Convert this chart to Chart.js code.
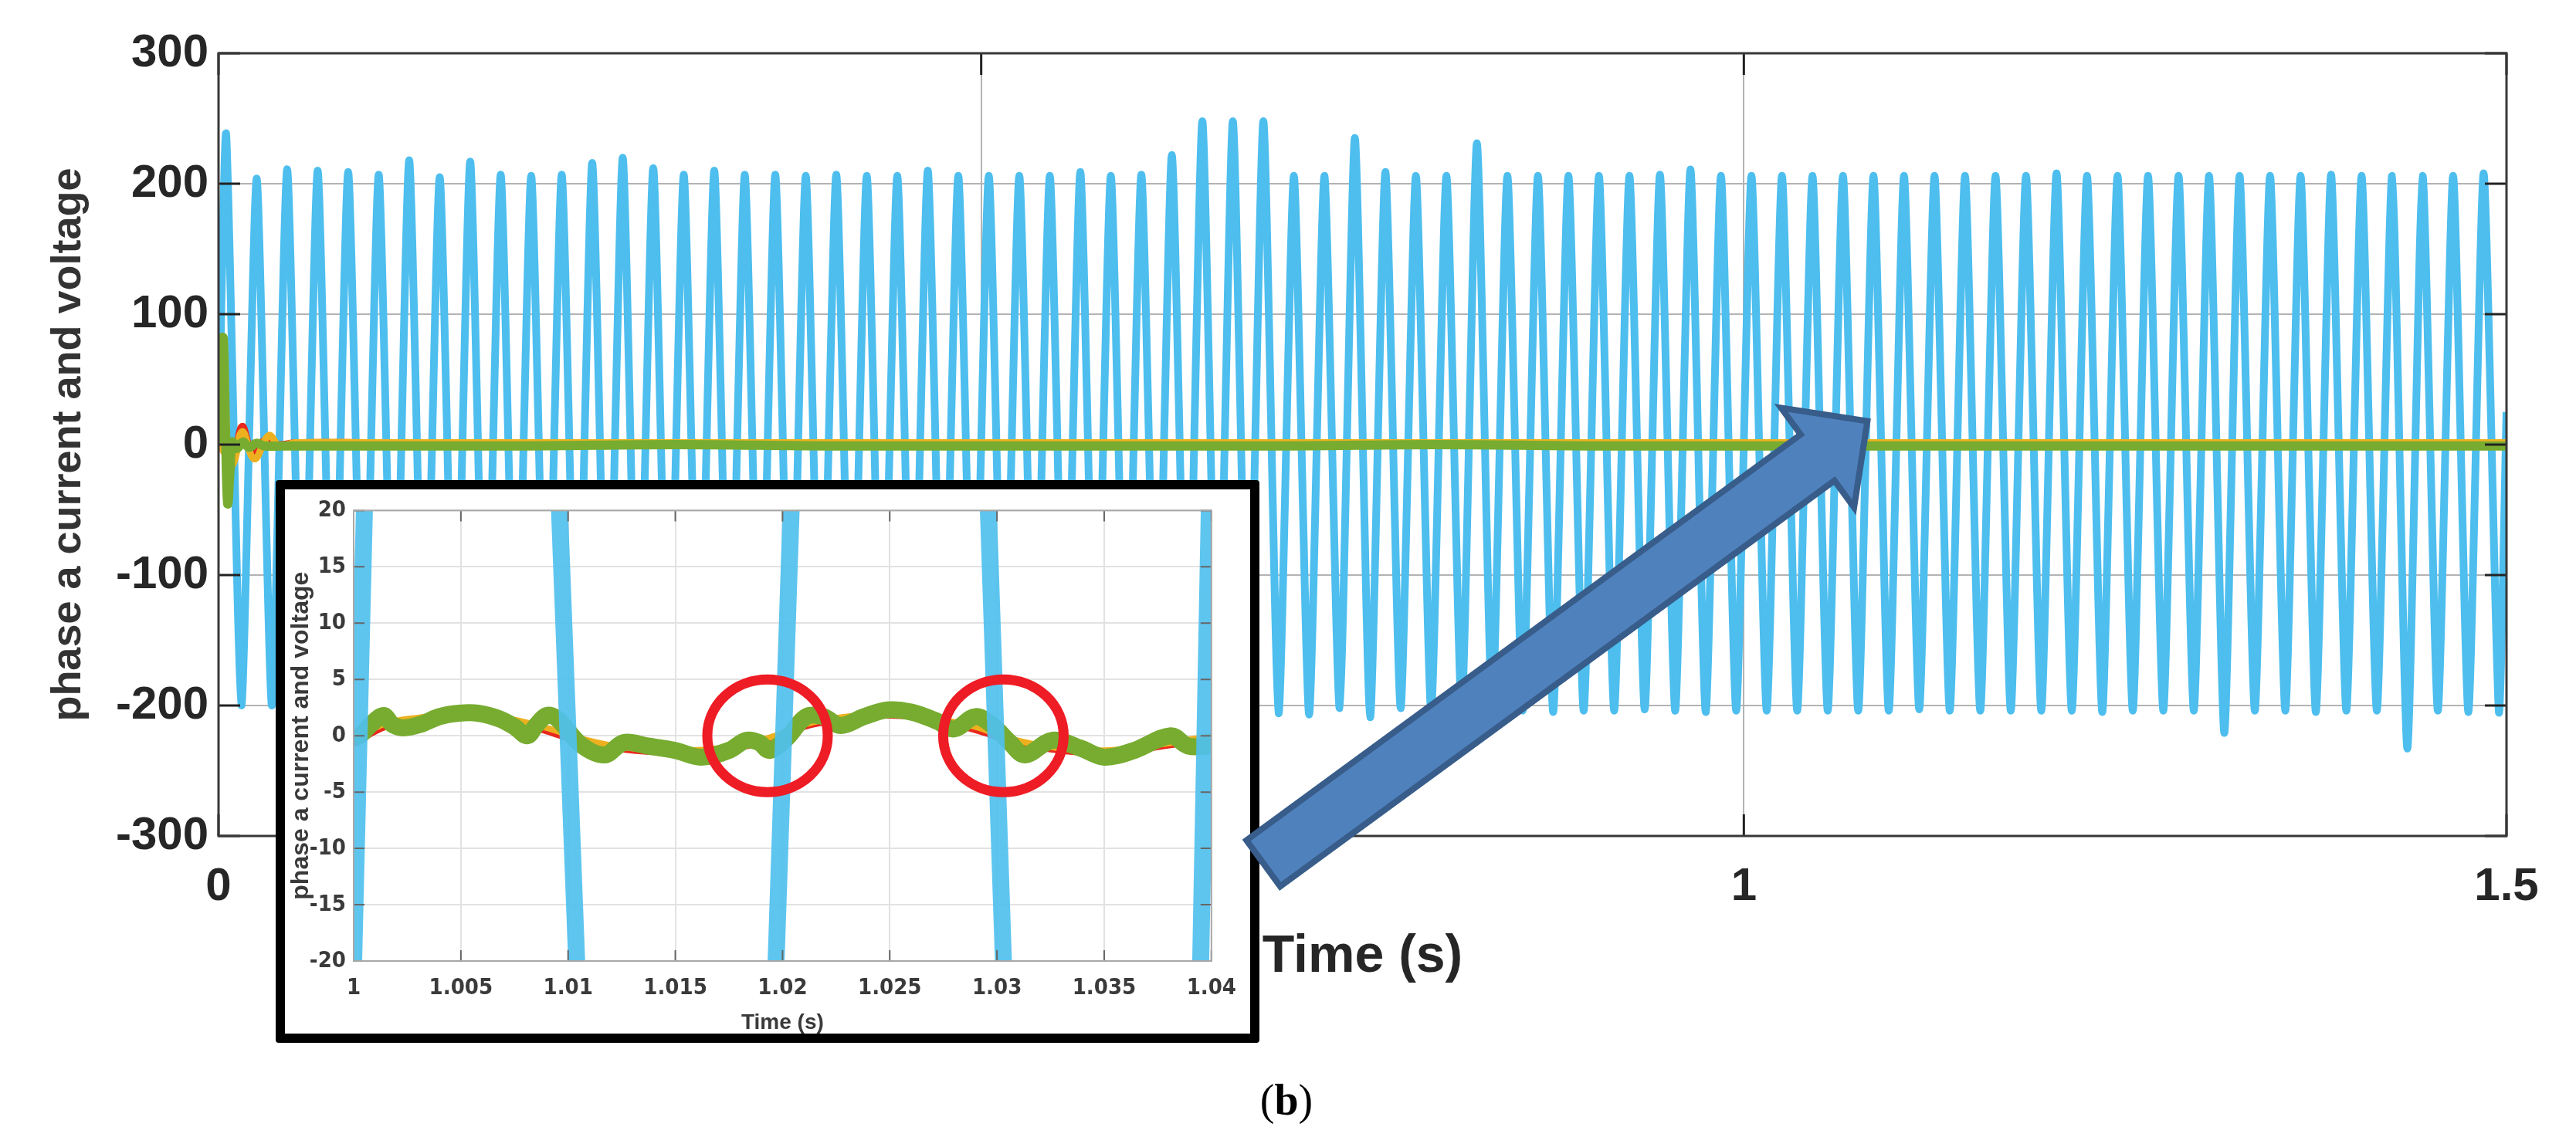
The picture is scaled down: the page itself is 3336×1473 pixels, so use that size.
<!DOCTYPE html>
<html>
<head>
<meta charset="utf-8">
<script src="https://cdn.jsdelivr.net/npm/chart.js@4.4.1/dist/chart.umd.min.js"></script>
<style>
html, body { margin: 0; padding: 0; background: #fff; }
#wrap { position: relative; width: 3336px; height: 1473px; overflow: hidden; }
#main { position: absolute; left: 0; top: 0; }
#insetBox { position: absolute; left: 357px; top: 622px; width: 1250px; height: 705px;
  border: 12px solid #000; background: #fff; border-radius: 4px; overflow: hidden; }
#inset { position: absolute; left: 0; top: 0; }
#arrow { position: absolute; left: 0; top: 0; pointer-events: none; }
#tag { position: absolute; left: 1666px; top: 1425px; transform: translate(-50%, -50%);
  font-family: 'Liberation Serif', 'DejaVu Serif', serif; font-size: 56px; color: #000; }
</style>
</head>
<body>
<div id="wrap">
  <canvas id="main" width="3336" height="1473"></canvas>
  <div id="insetBox"><canvas id="inset" width="1250" height="705"></canvas></div>
  <canvas id="arrow" width="3336" height="1473"></canvas>
  <div id="tag">(<b>b</b>)</div>
</div>
<script>
// ---- main plot: phase a current (blue), read peak by peak, 50 Hz ----
const peakTimes = [0.005,0.025,0.045,0.065,0.085,0.105,0.125,0.145,0.165,0.185,
  0.205,0.225,0.245,0.265,0.285,0.305,0.325,0.345,0.365,0.385,
  0.405,0.425,0.445,0.465,0.485,0.505,0.525,0.545,0.565,0.585,
  0.605,0.625,0.645,0.665,0.685,0.705,0.725,0.745,0.765,0.785,
  0.805,0.825,0.845,0.865,0.885,0.905,0.925,0.945,0.965,0.985,
  1.005,1.025,1.045,1.065,1.085,1.105,1.125,1.145,1.165,1.185,
  1.205,1.225,1.245,1.265,1.285,1.305,1.325,1.345,1.365,1.385,
  1.405,1.425,1.445,1.465,1.485];
const peakValues = [238,204,211,210,209,207,218,205,217,207,
  206,207,216,220,212,207,210,207,207,206,
  207,206,206,210,206,206,206,206,209,206,
  207,222,248,248,248,206,206,235,209,206,
  206,231,206,206,206,206,206,207,211,206,
  206,206,206,206,206,206,206,206,206,206,
  208,206,206,206,206,206,206,206,206,207,
  206,206,206,206,208];
const troughTimes = [0.015,0.035,0.055,0.075,0.095,0.115,0.135,0.155,0.175,0.195,
  0.215,0.235,0.255,0.275,0.295,0.315,0.335,0.355,0.375,0.395,
  0.415,0.435,0.455,0.475,0.495,0.515,0.535,0.555,0.575,0.595,
  0.615,0.635,0.655,0.675,0.695,0.715,0.735,0.755,0.775,0.795,
  0.815,0.835,0.855,0.875,0.895,0.915,0.935,0.955,0.975,0.995,
  1.015,1.035,1.055,1.075,1.095,1.115,1.135,1.155,1.175,1.195,
  1.215,1.235,1.255,1.275,1.295,1.315,1.335,1.355,1.375,1.395,
  1.415,1.435,1.455,1.475,1.495];
const troughValues = [-200,-200,-205,-205,-205,-205,-205,-205,-205,-205,
  -205,-205,-205,-205,-205,-205,-205,-205,-205,-205,
  -205,-205,-205,-205,-205,-205,-205,-205,-205,-205,
  -205,-205,-205,-205,-206,-207,-202,-209,-202,-204,
  -203,-204,-204,-205,-204,-204,-203,-204,-205,-204,
  -204,-204,-204,-204,-204,-203,-204,-204,-204,-204,
  -204,-205,-204,-204,-204,-221,-204,-204,-205,-204,
  -204,-233,-204,-205,-205];
const blueStart = 0, blueEnd = 25;

// voltages / references near zero, with the start-up transient
const greenT = [0,0.0015,0.003,0.0045,0.006,0.0075,0.009,0.012,0.016,0.02,0.025,0.03,0.04,
  0.1,0.2,0.3,0.4,0.5,0.6,0.7,0.8,0.9,1.0,1.1,1.2,1.3,1.4,1.5];
const greenV = [0,40,82,15,-45,-20,2,-3,2,-2,1,-1,-1,
  -1,-1,0,-1,-1,-1,-1,0,-1,-1,-1,-1,-1,-1,-1];
const orangeT = [0,0.005,0.0095,0.0155,0.0235,0.033,0.04,0.05,
  0.1,0.2,0.3,0.4,0.5,0.6,0.7,0.8,0.9,1.0,1.1,1.2,1.3,1.4,1.5];
const orangeV = [0,-8,-15,10,-11,7,-1,1.5,
  1.5,1.5,1.5,1.5,1.5,1.5,1.5,1.5,1.5,1.5,1.5,1.5,1.5,1.5,1.5];
const redT = [0,0.005,0.0095,0.0155,0.022,0.03,0.04,0.05,
  0.1,0.2,0.3,0.4,0.5,0.6,0.7,0.8,0.9,1.0,1.1,1.2,1.3,1.4,1.5];
const redV = [0,-6,-12,14,-5,3,0,1.5,
  1.5,1.5,1.5,1.5,1.5,1.5,1.5,1.5,1.5,1.5,1.5,1.5,1.5,1.5,1.5];

const mainXTicks = [0, 0.5, 1, 1.5];
const mainXLabels = ['0', '0.5', '1', '1.5'];
const mainYTicks = [-300, -200, -100, 0, 100, 200, 300];
const mainYLabels = ['-300', '-200', '-100', '0', '100', '200', '300'];

// ---- zoomed inset 1.00 .. 1.04 s ----
// blue: peaks plus the points where each stripe meets the +/-20 edges
const insetBlueT = [0.995,1.0000,1.0005,1.005,1.0096,1.0104,1.015,1.0197,1.0204,1.025,
  1.0296,1.0303,1.035,1.0395,1.0399,1.045];
const insetBlueV = [-205,-20,20,206,20,-20,-204,-20,20,206,
  20,-20,-204,-20,20,206];
const insetGreenT = [1.0,1.00035,1.0008,1.0014,1.0018,1.0023,1.0031,1.0040,1.0049,1.0058,
  1.0068,1.0075,1.0081,1.0085,1.0090,1.0095,1.0106,1.0117,1.0126,1.0137,
  1.0150,1.0162,1.0175,1.0183,1.0189,1.0194,1.0202,1.0211,1.0219,1.0227,
  1.0238,1.0249,1.0260,1.0272,1.0280,1.0290,1.0298,1.0306,1.0313,1.0326,
  1.0339,1.0350,1.0364,1.0381,1.0389,1.0398,1.04];
const insetGreenV = [-0.3,0.1,1.0,1.8,1.0,0.7,1.0,1.7,2.0,2.0,
  1.5,0.8,0.0,0.9,1.8,1.5,-0.8,-1.7,-0.6,-0.9,
  -1.3,-1.9,-1.3,-0.4,-0.6,-1.3,-0.2,1.7,1.7,0.9,
  1.7,2.3,2.1,1.3,0.6,1.7,0.9,-0.6,-1.7,-0.4,
  -1.1,-1.9,-1.3,0.0,-0.9,-0.9,-0.6];
const insetRedT = [1.0,1.0015,1.003,1.005,1.007,1.009,1.0105,1.0125,1.015,1.0175,
  1.0195,1.021,1.023,1.025,1.027,1.029,1.0305,1.0325,1.035,1.0375,1.04];
const insetRedV = [-0.7,0.8,1.4,1.8,1.5,0.4,-0.5,-1.2,-1.5,-1.2,
  -0.3,0.8,1.5,1.8,1.4,0.5,-0.4,-1.2,-1.5,-1.0,-0.2];
const insetOrangeT = [1.0,1.0015,1.003,1.005,1.007,1.009,1.0105,1.0125,1.015,1.0175,
  1.0195,1.021,1.023,1.025,1.027,1.029,1.0305,1.0325,1.035,1.0375,1.04];
const insetOrangeV = [-0.3,1.1,1.6,1.9,1.6,0.7,-0.2,-1.0,-1.3,-1.0,
  -0.1,1.0,1.7,1.9,1.5,0.8,-0.2,-1.0,-1.3,-0.8,0.0];
const insetXTicks = [1, 1.005, 1.01, 1.015, 1.02, 1.025, 1.03, 1.035, 1.04];
const insetXLabels = ['1', '1.005', '1.01', '1.015', '1.02', '1.025', '1.03', '1.035', '1.04'];
const insetYTicks = [-20, -15, -10, -5, 0, 5, 10, 15, 20];
const insetYLabels = ['-20', '-15', '-10', '-5', '0', '5', '10', '15', '20'];
const circleTimes = [1.0193, 1.0303];

// arrow from the inset to the zoomed region (data units of the main plot)
const arrowFrom = [0.685, -321];
const arrowTo = [1.081, 18];

const sans = "'Liberation Sans', Arial, Helvetica, sans-serif";
const narrow = "'Liberation Sans Narrow', 'DejaVu Sans Condensed', 'Liberation Sans', sans-serif";

function pts(ts, vs) {
  return ts.map((t, i) => ({x: t, y: vs[i]}));
}

var bluePts = [{x: 0, y: blueStart}];
for (var i = 0; i < peakTimes.length; i++) {
  bluePts.push({x: peakTimes[i], y: peakValues[i]});
  bluePts.push({x: troughTimes[i], y: troughValues[i]});
}
bluePts.push({x: 1.5, y: blueEnd});

// box + inward tick marks, matlab style
function boxPlugin(id, xt, yt, color, width, tick, tickColor) {
  return {
    id: id,
    afterDatasetsDraw(chart) {
      const {ctx, chartArea: a, scales} = chart;
      ctx.save();
      ctx.strokeStyle = tickColor;
      ctx.lineWidth = width;
      ctx.beginPath();
      yt.forEach(v => {
        const py = scales.y.getPixelForValue(v);
        ctx.moveTo(a.left, py); ctx.lineTo(a.left + tick, py);
        ctx.moveTo(a.right, py); ctx.lineTo(a.right - tick, py);
      });
      xt.forEach(v => {
        const px = scales.x.getPixelForValue(v);
        ctx.moveTo(px, a.bottom); ctx.lineTo(px, a.bottom - tick);
        ctx.moveTo(px, a.top); ctx.lineTo(px, a.top + tick);
      });
      ctx.stroke();
      ctx.strokeStyle = color;
      ctx.strokeRect(a.left, a.top, a.right - a.left, a.bottom - a.top);
      ctx.restore();
    }
  };
}

const mainChart = new Chart(document.getElementById('main'), {
  type: 'line',
  data: {
    datasets: [
      {data: pts(greenT, greenV), borderColor: '#77AC30', borderWidth: 12, tension: 0.4},
      {data: pts(orangeT, orangeV), borderColor: '#EDB120', borderWidth: 9, tension: 0.4},
      {data: pts(redT, redV), borderColor: '#E8281E', borderWidth: 9, tension: 0.4},
      {data: bluePts, borderColor: '#4DBEEE', borderWidth: 10, tension: 0.2}
    ]
  },
  options: {
    responsive: false,
    animation: false,
    events: [],
    elements: {point: {radius: 0}},
    layout: {padding: {left: 57, top: 69, right: 90, bottom: 192}},
    plugins: {legend: {display: false}, tooltip: {enabled: false}},
    scales: {
      x: {
        type: 'linear', min: 0, max: 1.5,
        afterBuildTicks: s => { s.ticks = mainXTicks.map(v => ({value: v})); },
        afterFit: s => { s.height = 198; },
        grid: {color: '#B3B3B3', lineWidth: 2, drawTicks: false},
        border: {display: false},
        ticks: {padding: 30, color: '#262626', maxRotation: 0, autoSkip: false,
          font: {family: sans, size: 60, weight: 'bold'},
          callback: (v, i) => mainXLabels[i]},
        title: {display: true, text: 'Time (s)', color: '#262626', padding: 0,
          font: {family: sans, size: 68, weight: 'bold'}}
      },
      y: {
        type: 'linear', min: -300, max: 300,
        afterBuildTicks: s => { s.ticks = mainYTicks.map(v => ({value: v})); },
        afterFit: s => { s.width = 226; },
        grid: {color: '#B3B3B3', lineWidth: 2, drawTicks: false},
        border: {display: false},
        ticks: {padding: 13, color: '#262626', autoSkip: false,
          font: {family: sans, size: 60, weight: 'bold'},
          callback: (v, i) => mainYLabels[i]},
        title: {display: true, text: 'phase a current and voltage', color: '#333333', padding: 0,
          font: {family: sans, size: 54, weight: 'bold'}}
      }
    }
  },
  plugins: [boxPlugin('mainBox', mainXTicks, mainYTicks, '#383838', 3, 28, '#222')]
});

const circles = {
  id: 'circles',
  afterDraw(chart) {
    const {ctx, scales} = chart;
    ctx.save();
    ctx.strokeStyle = '#EE1C25';
    ctx.lineWidth = 13;
    circleTimes.forEach(t => {
      ctx.beginPath();
      ctx.ellipse(scales.x.getPixelForValue(t), scales.y.getPixelForValue(0), 78, 73, 0, 0, Math.PI * 2);
      ctx.stroke();
    });
    ctx.restore();
  }
};

const insetChart = new Chart(document.getElementById('inset'), {
  type: 'line',
  data: {
    datasets: [
      {data: pts(insetBlueT, insetBlueV), borderColor: 'rgba(80,192,238,0.92)', borderWidth: 22, tension: 0},
      {data: pts(insetGreenT, insetGreenV), borderColor: '#77AC30', borderWidth: 22, tension: 0.35},
      {data: pts(insetOrangeT, insetOrangeV), borderColor: '#EDB120', borderWidth: 8, tension: 0.4},
      {data: pts(insetRedT, insetRedV), borderColor: '#E8281E', borderWidth: 8, tension: 0.4}
    ]
  },
  options: {
    responsive: false,
    animation: false,
    events: [],
    elements: {point: {radius: 0}},
    layout: {padding: {left: 2, top: 23, right: 28, bottom: 0}},
    plugins: {legend: {display: false}, tooltip: {enabled: false}},
    scales: {
      x: {
        type: 'linear', min: 1, max: 1.04,
        afterBuildTicks: s => { s.ticks = insetXTicks.map(v => ({value: v})); },
        afterFit: s => { s.height = 94; },
        grid: {color: '#E2E2E2', lineWidth: 2, drawTicks: false},
        border: {display: false},
        ticks: {padding: 18, color: '#3A3A3A', maxRotation: 0, autoSkip: false,
          font: {family: narrow, size: 29, weight: 'bold'},
          callback: (v, i) => insetXLabels[i]},
        title: {display: true, text: 'Time (s)', color: '#3A3A3A', padding: 0,
          font: {family: sans, size: 28, weight: 'bold', lineHeight: 1}}
      },
      y: {
        type: 'linear', min: -20, max: 20,
        afterBuildTicks: s => { s.ticks = insetYTicks.map(v => ({value: v})); },
        afterFit: s => { s.width = 87; },
        grid: {color: '#E2E2E2', lineWidth: 2, drawTicks: false},
        border: {display: false},
        ticks: {padding: 10, color: '#3A3A3A', autoSkip: false,
          font: {family: narrow, size: 29, weight: 'bold'},
          callback: (v, i) => insetYLabels[i]},
        title: {display: true, text: 'phase a current and voltage', color: '#3A3A3A', padding: 0,
          font: {family: sans, size: 32, weight: 'bold'}}
      }
    }
  },
  plugins: [boxPlugin('insetBox', insetXTicks, insetYTicks, '#A8A8A8', 2, 14, '#666'), circles]
});

// big blue arrow on top of everything
function drawArrow() {
  const ctx = document.getElementById('arrow').getContext('2d');
  const sx = mainChart.scales.x, sy = mainChart.scales.y;
  const tx = sx.getPixelForValue(arrowFrom[0]), ty = sy.getPixelForValue(arrowFrom[1]);
  const px = sx.getPixelForValue(arrowTo[0]), py = sy.getPixelForValue(arrowTo[1]);
  const len = Math.hypot(px - tx, py - ty);
  const ux = (px - tx) / len, uy = (py - ty) / len;
  const nx = -uy, ny = ux;
  const w = 37, hw = 80, hl = 80;
  const bx = px - ux * hl, by = py - uy * hl;
  ctx.beginPath();
  ctx.moveTo(tx + nx * w, ty + ny * w);
  ctx.lineTo(bx + nx * w, by + ny * w);
  ctx.lineTo(bx + nx * hw, by + ny * hw);
  ctx.lineTo(px, py);
  ctx.lineTo(bx - nx * hw, by - ny * hw);
  ctx.lineTo(bx - nx * w, by - ny * w);
  ctx.lineTo(tx - nx * w, ty - ny * w);
  ctx.closePath();
  ctx.fillStyle = '#4F81BD';
  ctx.fill();
  ctx.lineJoin = 'miter';
  ctx.lineWidth = 8;
  ctx.strokeStyle = '#385D8A';
  ctx.stroke();
}
drawArrow();
</script>
</body>
</html>
